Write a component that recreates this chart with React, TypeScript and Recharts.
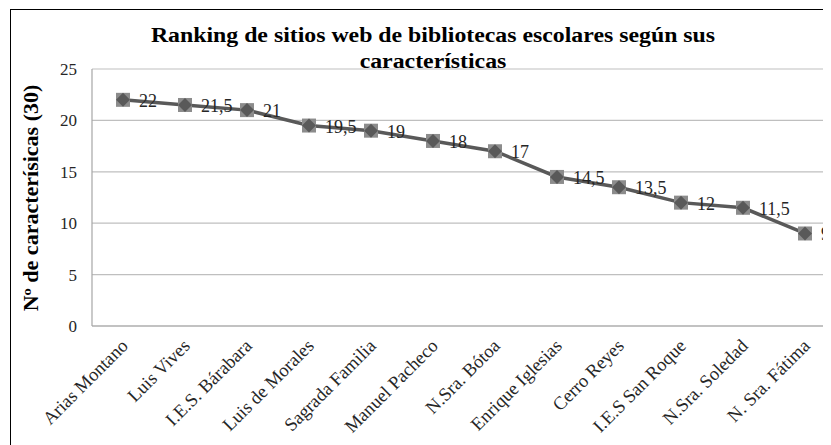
import React from "react";
import { LineChart, Line, XAxis, YAxis, CartesianGrid, LabelList } from "recharts";

const categories = [
  "Arias Montano",
  "Luis Vives",
  "I.E.S. Bárabara",
  "Luis de Morales",
  "Sagrada Familia",
  "Manuel Pacheco",
  "N.Sra. Bótoa",
  "Enrique Iglesias",
  "Cerro Reyes",
  "I.E.S San Roque",
  "N.Sra. Soledad",
  "N. Sra. Fátima",
];
const values = [22, 21.5, 21, 19.5, 19, 18, 17, 14.5, 13.5, 12, 11.5, 9];
const yTicks = [0, 5, 10, 15, 20, 25];
const titleLines = ["Ranking de sitios web de bibliotecas escolares según sus", "características"];
const yAxisTitle = "Nº de caracterísicas (30)";

const data = categories.map((c, i) => ({ name: c, value: values[i] }));

const FONT = "Liberation Serif, Tinos, Times New Roman, DejaVu Serif, serif";

const Dot = (props: any) => {
  const { cx, cy } = props;
  if (cx == null || cy == null) return null;
  const s = 7;
  return (
    <g>
      <rect x={cx - s} y={cy - s} width={2 * s} height={2 * s} fill="#8c8c8c" />
      <polygon
        points={`${cx},${cy - 7} ${cx + 7},${cy} ${cx},${cy + 7} ${cx - 7},${cy}`}
        fill="#595959"
      />
    </g>
  );
};

const XTick = (props: any) => {
  const { x, y, payload } = props;
  const ax = x + 6;
  const ay = y + 13;
  return (
    <text
      x={ax}
      y={ay}
      textAnchor="end"
      fontFamily={FONT}
      fontSize={18.5}
      fill="#262626"
      transform={`rotate(-45, ${ax}, ${ay})`}
    >
      {payload.value}
    </text>
  );
};

const ValueLabel = (props: any) => {
  const { x, y, value } = props;
  return (
    <text x={x + 16} y={y + 7} fontFamily={FONT} fontSize={18} fill="#262626" textAnchor="start">
      {String(value).replace(".", ",")}
    </text>
  );
};

export default function App() {
  return (
    <div style={{ position: "relative", width: 823, height: 437, overflow: "hidden", background: "#fff" }}>
      <div
        style={{
          position: "absolute",
          left: 2,
          top: 1,
          width: 900,
          height: 500,
          border: "1.5px solid #000",
          boxSizing: "border-box",
        }}
      />
      <div
        style={{
          position: "absolute",
          left: 0,
          top: 14,
          width: 850,
          textAlign: "center",
          fontFamily: FONT,
          fontWeight: "bold",
          fontSize: 20,
          lineHeight: "26px",
          color: "#000",
          transform: "scaleX(1.19)",
          transformOrigin: "425px 0px",
        }}
      >
        {titleLines.map((t) => (
          <div key={t}>{t}</div>
        ))}
      </div>
      <div
        style={{
          position: "absolute",
          left: 23,
          top: 190,
          transform: "translate(-50%, -50%) rotate(-90deg) scaleX(1.1)",
          whiteSpace: "nowrap",
          fontFamily: FONT,
          fontWeight: "bold",
          fontSize: 20,
          color: "#000",
        }}
      >
        {yAxisTitle}
      </div>
      <div style={{ position: "absolute", left: 0, top: 0 }}>
        <LineChart
          width={850}
          height={437}
          data={data}
          margin={{ top: 61, right: 22, left: 0, bottom: 0 }}
        >
          <CartesianGrid vertical={false} stroke="#bfbfbf" strokeWidth={1.2} />
          <XAxis
            dataKey="name"
            interval={0}
            height={119}
            padding={{ left: 31, right: 31 }}
            tick={<XTick />}
            tickLine={false}
            axisLine={{ stroke: "#a6a6a6", strokeWidth: 1.2 }}
          />
          <YAxis
            width={84}
            domain={[0, 25]}
            ticks={yTicks}
            tickLine={false}
            axisLine={{ stroke: "#a6a6a6", strokeWidth: 1.2 }}
            tick={{ fontFamily: FONT, fontSize: 17, fill: "#262626" }}
            tickMargin={9}
          />
          <Line
            type="linear"
            dataKey="value"
            stroke="#595959"
            strokeWidth={3.5}
            dot={<Dot />}
            activeDot={false}
            isAnimationActive={false}
          >
            <LabelList dataKey="value" content={<ValueLabel />} />
          </Line>
        </LineChart>
      </div>
    </div>
  );
}
